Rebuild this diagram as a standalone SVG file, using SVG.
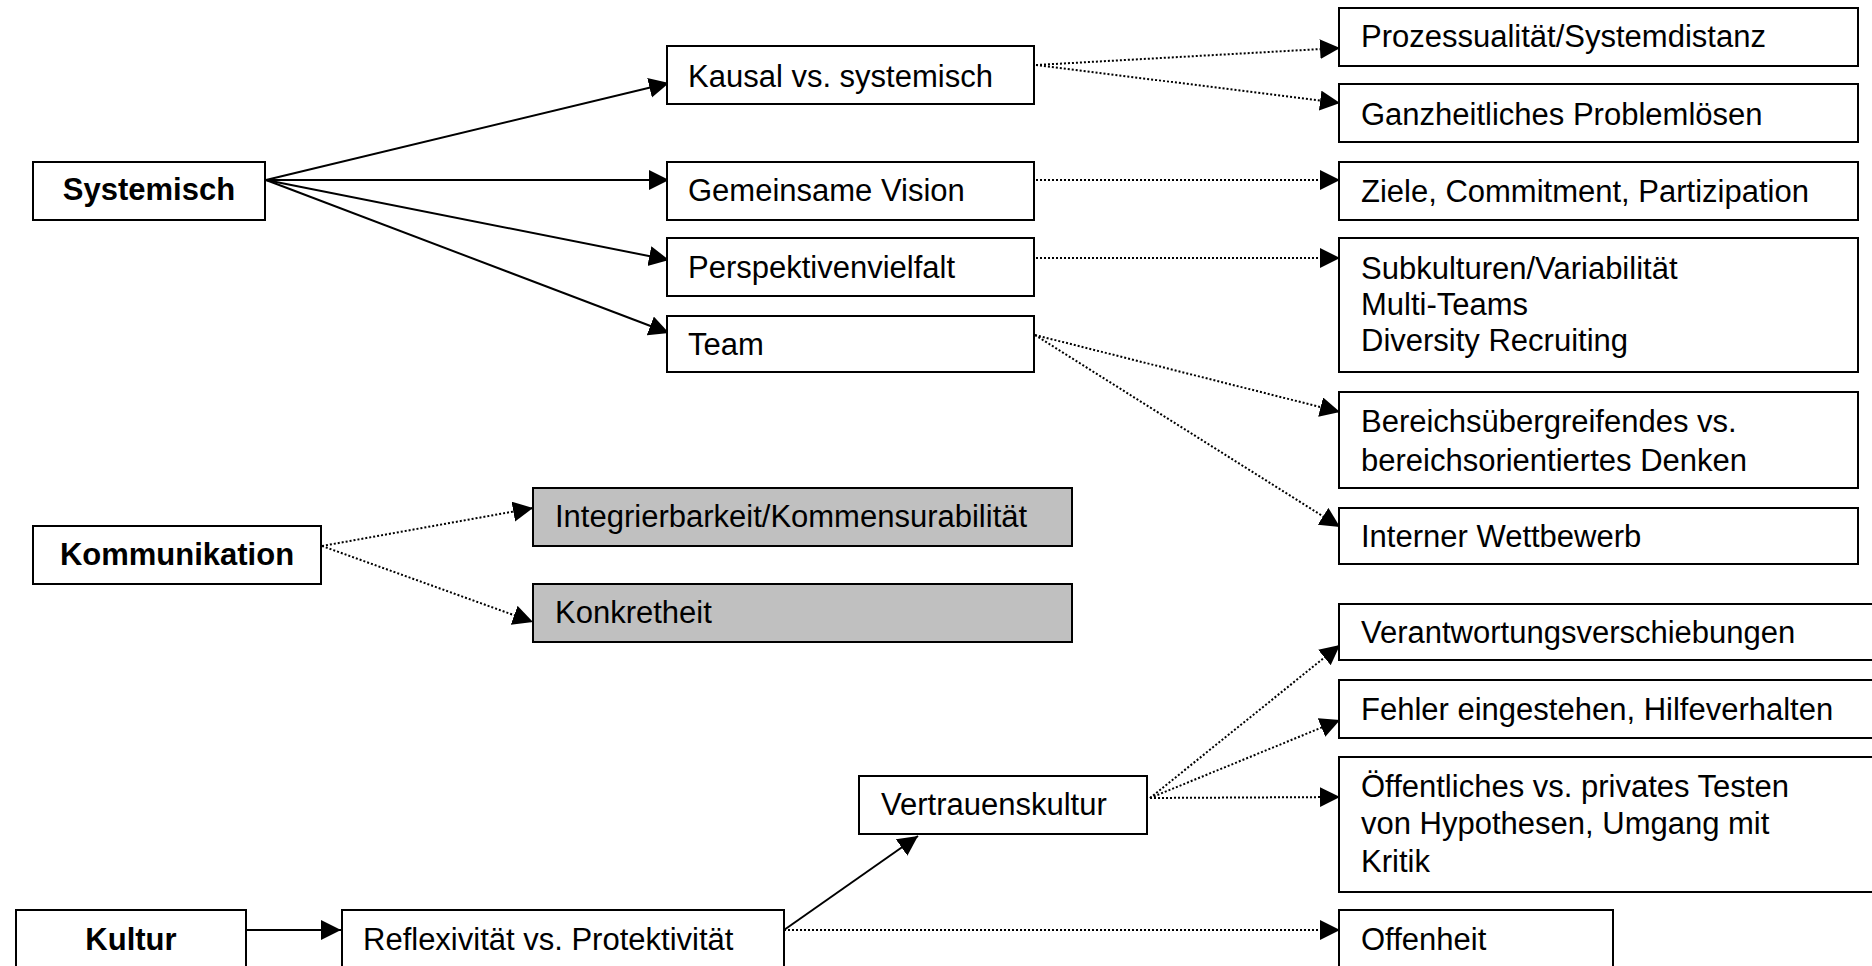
<svg xmlns="http://www.w3.org/2000/svg" width="1872" height="966" viewBox="0 0 1872 966">
  <style>
    .box { fill: #ffffff; stroke: #000000; stroke-width: 2; }
    .grey { fill: #c0c0c0; stroke: #000000; stroke-width: 2; }
    .t { font-family: "Liberation Sans", Arial, sans-serif; font-size: 31px; fill: #000000; }
    .b { font-family: "Liberation Sans", Arial, sans-serif; font-size: 31px; font-weight: bold; fill: #000000; text-anchor: middle; }
    .solid { stroke: #000000; stroke-width: 2; fill: none; marker-end: url(#head); }
    .dot { stroke: #000000; stroke-width: 2; stroke-dasharray: 2 2; fill: none; marker-end: url(#head); }
  </style>
  <defs>
    <marker id="head" markerUnits="userSpaceOnUse" markerWidth="21" markerHeight="21" refX="20" refY="10" orient="auto">
      <path d="M0,0 L20,10 L0,20 z" fill="#000000"/>
    </marker>
  </defs>
  <rect x="0" y="0" width="1872" height="966" fill="#ffffff"/>

  <!-- connectors -->
  <g id="connectors">
    <!-- Systemisch fan-out -->
    <line class="solid" x1="266" y1="180" x2="669" y2="83"/>
    <line class="solid" x1="266" y1="180" x2="669" y2="180"/>
    <line class="solid" x1="266" y1="180" x2="669" y2="260"/>
    <line class="solid" x1="266" y1="180" x2="669" y2="333"/>
    <!-- second level, dotted -->
    <line class="dot" x1="1036" y1="65" x2="1340" y2="48"/>
    <line class="dot" x1="1036" y1="65" x2="1340" y2="103"/>
    <line class="dot" x1="1036" y1="180" x2="1340" y2="180"/>
    <line class="dot" x1="1036" y1="258" x2="1340" y2="258"/>
    <line class="dot" x1="1035" y1="335" x2="1340" y2="412"/>
    <line class="dot" x1="1035" y1="335" x2="1340" y2="527"/>
    <!-- Kommunikation -->
    <line class="dot" x1="322" y1="546" x2="533" y2="508"/>
    <line class="dot" x1="322" y1="546" x2="533" y2="622"/>
    <!-- Kultur chain -->
    <line class="solid" x1="246" y1="930" x2="341" y2="930"/>
    <line class="solid" x1="784" y1="930" x2="918" y2="836"/>
    <line class="dot" x1="784" y1="930" x2="1340" y2="930"/>
    <line class="dot" x1="1150" y1="798" x2="1340" y2="645"/>
    <line class="dot" x1="1150" y1="798" x2="1340" y2="720"/>
    <line class="dot" x1="1150" y1="798" x2="1340" y2="797"/>
  </g>

  <!-- main nodes -->
  <g id="n-systemisch">
    <rect class="box" x="33" y="162" width="232" height="58"/>
    <text class="b" x="149" y="200">Systemisch</text>
  </g>
  <g id="n-kommunikation">
    <rect class="box" x="33" y="526" width="288" height="58"/>
    <text class="b" x="177" y="565">Kommunikation</text>
  </g>
  <g id="n-kultur">
    <rect class="box" x="16" y="910" width="230" height="80"/>
    <text class="b" x="131" y="950">Kultur</text>
  </g>

  <!-- Systemisch branch -->
  <g id="n-kausal">
    <rect class="box" x="667" y="46" width="367" height="58"/>
    <text class="t" x="688" y="87">Kausal vs. systemisch</text>
  </g>
  <g id="n-vision">
    <rect class="box" x="667" y="162" width="367" height="58"/>
    <text class="t" x="688" y="201">Gemeinsame Vision</text>
  </g>
  <g id="n-perspektiven">
    <rect class="box" x="667" y="238" width="367" height="58"/>
    <text class="t" x="688" y="278">Perspektivenvielfalt</text>
  </g>
  <g id="n-team">
    <rect class="box" x="667" y="316" width="367" height="56"/>
    <text class="t" x="688" y="355">Team</text>
  </g>

  <g id="n-prozess">
    <rect class="box" x="1339" y="8" width="519" height="58"/>
    <text class="t" x="1361" y="47">Prozessualität/Systemdistanz</text>
  </g>
  <g id="n-ganzheitlich">
    <rect class="box" x="1339" y="84" width="519" height="58"/>
    <text class="t" x="1361" y="125">Ganzheitliches Problemlösen</text>
  </g>
  <g id="n-ziele">
    <rect class="box" x="1339" y="162" width="519" height="58"/>
    <text class="t" x="1361" y="202">Ziele, Commitment, Partizipation</text>
  </g>
  <g id="n-subkulturen">
    <rect class="box" x="1339" y="238" width="519" height="134"/>
    <text class="t" x="1361" y="279">Subkulturen/Variabilität</text>
    <text class="t" x="1361" y="315">Multi-Teams</text>
    <text class="t" x="1361" y="351">Diversity Recruiting</text>
  </g>
  <g id="n-bereichs">
    <rect class="box" x="1339" y="392" width="519" height="96"/>
    <text class="t" x="1361" y="432">Bereichsübergreifendes vs.</text>
    <text class="t" x="1361" y="471">bereichsorientiertes Denken</text>
  </g>
  <g id="n-wettbewerb">
    <rect class="box" x="1339" y="508" width="519" height="56"/>
    <text class="t" x="1361" y="547">Interner Wettbewerb</text>
  </g>

  <!-- Kommunikation branch -->
  <g id="n-integrierbarkeit">
    <rect class="grey" x="533" y="488" width="539" height="58"/>
    <text class="t" x="555" y="527">Integrierbarkeit/Kommensurabilität</text>
  </g>
  <g id="n-konkretheit">
    <rect class="grey" x="533" y="584" width="539" height="58"/>
    <text class="t" x="555" y="623">Konkretheit</text>
  </g>

  <!-- Kultur branch -->
  <g id="n-reflexivitaet">
    <rect class="box" x="342" y="910" width="442" height="80"/>
    <text class="t" x="363" y="950">Reflexivität vs. Protektivität</text>
  </g>
  <g id="n-vertrauen">
    <rect class="box" x="859" y="776" width="288" height="58"/>
    <text class="t" x="881" y="815">Vertrauenskultur</text>
  </g>
  <g id="n-verantwortung">
    <rect class="box" x="1339" y="604" width="560" height="56"/>
    <text class="t" x="1361" y="643">Verantwortungsverschiebungen</text>
  </g>
  <g id="n-fehler">
    <rect class="box" x="1339" y="680" width="560" height="58"/>
    <text class="t" x="1361" y="720">Fehler eingestehen, Hilfeverhalten</text>
  </g>
  <g id="n-oeffentlich">
    <rect class="box" x="1339" y="757" width="560" height="135"/>
    <text class="t" x="1361" y="797">Öffentliches vs. privates Testen</text>
    <text class="t" x="1361" y="834">von Hypothesen, Umgang mit</text>
    <text class="t" x="1361" y="872">Kritik</text>
  </g>
  <g id="n-offenheit">
    <rect class="box" x="1339" y="910" width="274" height="80"/>
    <text class="t" x="1361" y="950">Offenheit</text>
  </g>
</svg>
